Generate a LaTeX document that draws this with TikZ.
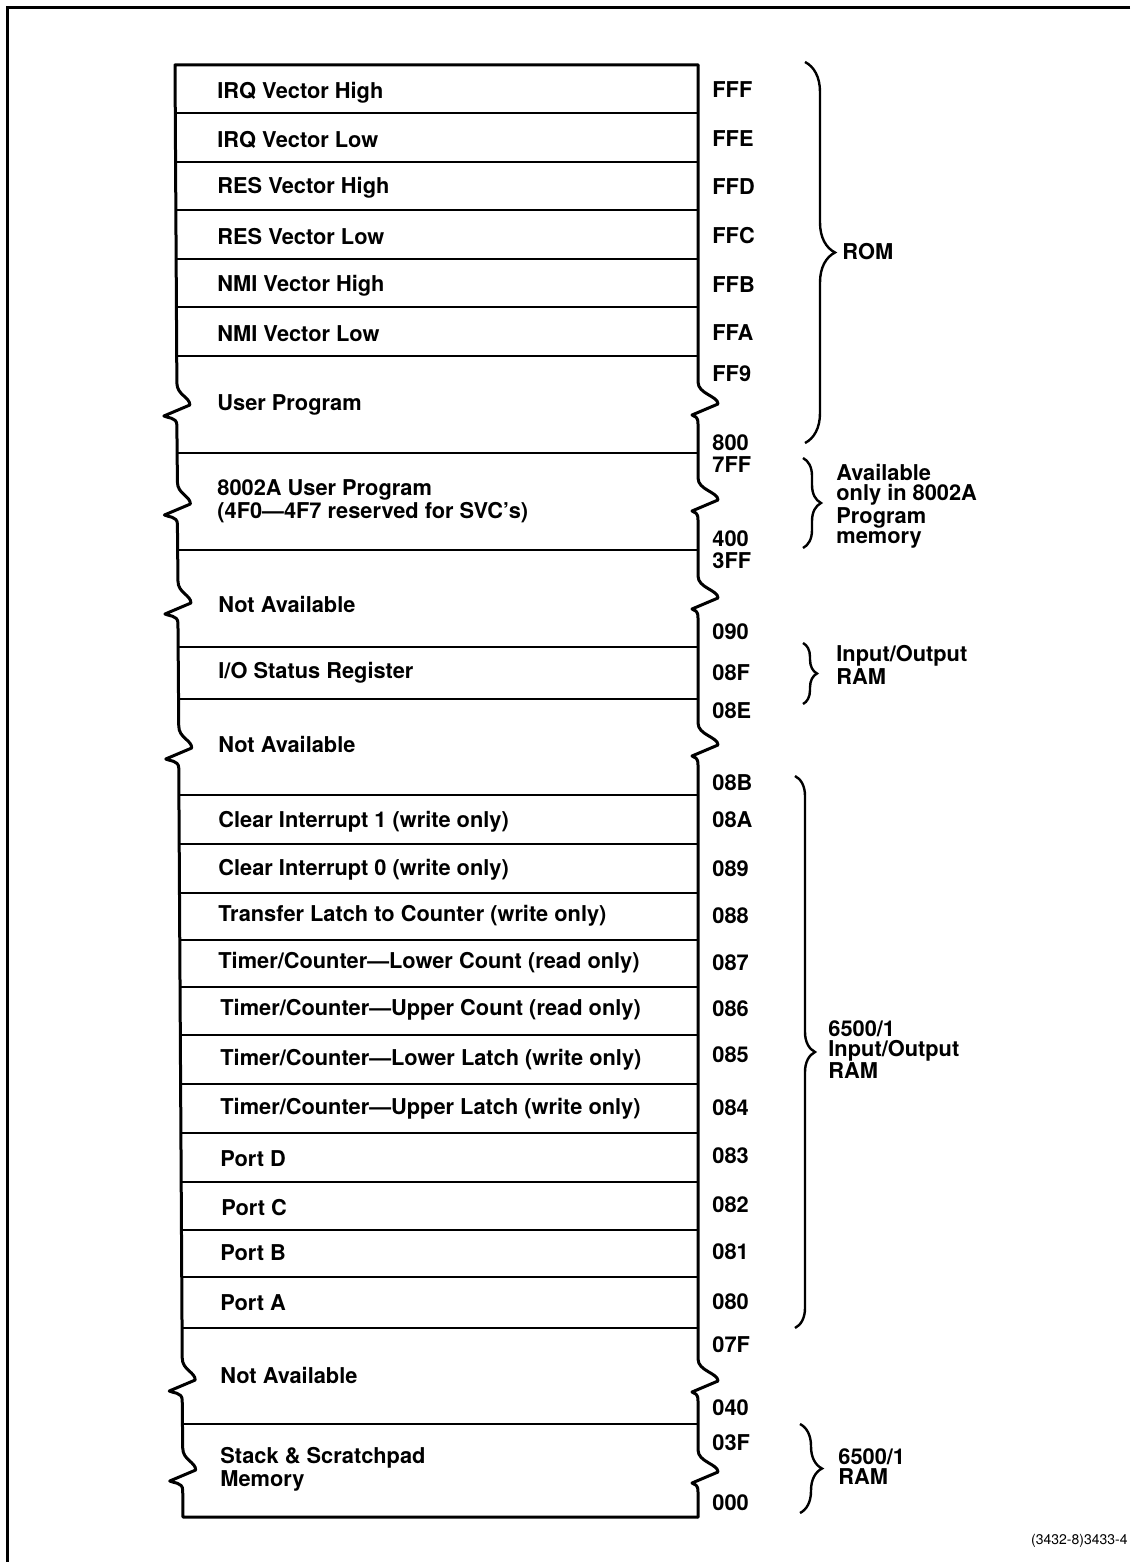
\documentclass[tikz,border=0pt]{standalone}
\usepackage{fontspec}
\setmainfont{TeX Gyre Heros}
\usetikzlibrary{decorations.pathreplacing}
\newcommand\LX[1]{#1*0.0055+174.6425}
\newcommand\zig[4]{-- ({#1},{#2-22}) .. controls ({#1},{#2-10}) and ({#1+#3},{#2-8}) .. ({#1+#3},{#2}) -- ({#1-#4},{#2+11}) .. controls ({#1-#4+3},{#2+13}) and ({#1},{#2+12}) .. ({#1},{#2+20})}
\begin{document}
\begin{tikzpicture}[x=0.5pt,y=-0.5pt,
  box/.style={line width=1.5pt, line cap=round, line join=round},
  div/.style={line width=1.2pt},
  cell/.style={anchor=west, inner sep=0pt, align=left, font=\fontsize{10.9}{9.5}\selectfont\bfseries},
  addr/.style={anchor=west, inner sep=0pt, font=\fontsize{10.9}{10}\selectfont\bfseries},
  note/.style={anchor=north west, inner sep=0pt, align=left, font=\fontsize{10.9}{10}\selectfont\bfseries},
  brc/.style={decorate, line width=1.2pt},
  frame/.style={line width=1.5pt}]
\useasboundingbox (0,0) rectangle (1130,1562);
% outer frame (top and left)
\draw[frame] (1130,8) -- (7,8) -- (7,1562);
% main outline: top, left edge, bottom
\draw[box] (698,65) -- (175,65)
  \zig{\LX{405}}{405}{13}{13}
  \zig{\LX{504}}{504}{13}{13}
  \zig{\LX{603}}{603}{13}{13}
  \zig{\LX{748}}{748}{13}{13}
  \zig{\LX{1380}}{1380}{13}{13}
  \zig{\LX{1470}}{1470}{13}{13}
  -- ({\LX{1517}},1517) -- (698,1517);
% right edge
\draw[box] (698,65)
  \zig{698}{404}{20}{6}
  \zig{698}{500}{20}{6}
  \zig{698}{598}{20}{6}
  \zig{698}{745}{20}{6}
  \zig{698}{1381}{20}{6}
  \zig{698}{1472}{20}{6}
  -- (698,1517);
% dividers
\foreach \y in {113,162,210,259,307,356,453,550,647,699,795,844,893,940,987,1035,1084,1133,1182,1230,1277,1328,1424}
  \draw[div] ({\LX{\y}},\y) -- (698,\y);
% cell texts
\node[cell] (c1) at (217,93) {IRQ Vector High};
\node[cell] (c2) at (217,140) {IRQ Vector Low};
\node[cell] (c3) at (217,188) {RES Vector High};
\node[cell] (c4) at (217,237) {RES Vector Low};
\node[cell] (c5) at (217,286) {NMI Vector High};
\node[cell] (c6) at (217,334) {NMI Vector Low};
\node[cell] (c7) at (217,405) {User Program};
\node[cell] (c8) at (217,501) {8002A User Program\\(4F0—4F7 reserved for SVC’s)};
\node[cell] (c9) at (218,604) {Not Available};
\node[cell] (c10) at (218,673) {I/O Status Register};
\node[cell] (c11) at (218,744) {Not Available};
\node[cell] (c12) at (218,822) {Clear Interrupt 1 (write only)};
\node[cell] (c13) at (218,870) {Clear Interrupt 0 (write only)};
\node[cell] (c14) at (218,916) {Transfer Latch to Counter (write only)};
\node[cell] (c15) at (218,963) {Timer/Counter—Lower Count (read only)};
\node[cell] (c16) at (220,1010) {Timer/Counter—Upper Count (read only)};
\node[cell] (c17) at (220,1060) {Timer/Counter—Lower Latch (write only)};
\node[cell] (c18) at (220,1109) {Timer/Counter—Upper Latch (write only)};
\node[cell] (c19) at (220,1159) {Port D};
\node[cell] (c20) at (221,1208) {Port C};
\node[cell] (c21) at (220,1253) {Port B};
\node[cell] (c22) at (220,1303) {Port A};
\node[cell] (c23) at (220,1375) {Not Available};
\node[cell] (c24) at (220,1469) {Stack \& Scratchpad\\Memory};
% addresses
\node[addr] (a1) at (712,90) {FFF};
\node[addr] (a2) at (712,139) {FFE};
\node[addr] (a3) at (712,187) {FFD};
\node[addr] (a4) at (712,236) {FFC};
\node[addr] (a5) at (712,285) {FFB};
\node[addr] (a6) at (712,333) {FFA};
\node[addr] (a7) at (712,374) {FF9};
\node[addr] (a8) at (712,443) {800};
\node[addr] (a9) at (712,465) {7FF};
\node[addr] (a10) at (712,539) {400};
\node[addr] (a11) at (712,561) {3FF};
\node[addr] (a12) at (712,632) {090};
\node[addr] (a13) at (712,673) {08F};
\node[addr] (a14) at (712,711) {08E};
\node[addr] (a15) at (712,783) {08B};
\node[addr] (a16) at (712,820) {08A};
\node[addr] (a17) at (712,869) {089};
\node[addr] (a18) at (712,916) {088};
\node[addr] (a19) at (712,963) {087};
\node[addr] (a20) at (712,1009) {086};
\node[addr] (a21) at (712,1055) {085};
\node[addr] (a22) at (712,1108) {084};
\node[addr] (a23) at (712,1156) {083};
\node[addr] (a24) at (712,1205) {082};
\node[addr] (a25) at (712,1252) {081};
\node[addr] (a26) at (712,1302) {080};
\node[addr] (a27) at (712,1345) {07F};
\node[addr] (a28) at (712,1408) {040};
\node[addr] (a29) at (712,1443) {03F};
\node[addr] (a30) at (712,1503) {000};
% braces
\coordinate (b1t) at (805,62);   \coordinate (b1b) at (805,443);
\coordinate (b2t) at (803,458);  \coordinate (b2b) at (803,548);
\coordinate (b3t) at (803,643);  \coordinate (b3b) at (803,704);
\coordinate (b4t) at (795,776);  \coordinate (b4b) at (795,1328);
\coordinate (b5t) at (800,1424); \coordinate (b5b) at (800,1513);
\draw[brc, decoration={brace, amplitude=15pt}] (b1t) -- (b1b);
\draw[brc, decoration={brace, amplitude=9pt}] (b2t) -- (b2b);
\draw[brc, decoration={brace, amplitude=7pt}] (b3t) -- (b3b);
\draw[brc, decoration={brace, amplitude=10pt}] (b4t) -- (b4b);
\draw[brc, decoration={brace, amplitude=11pt}] (b5t) -- (b5b);
\node[addr] (n1) at (842,252) {ROM};
\node[note] (n2) at (836,464) {Available\\only in 8002A\\Program\\memory};
\node[note] (n3) at (836,645) {Input/Output\\RAM};
\node[note] (n4) at (828,1020) {6500/1\\Input/Output\\RAM};
\node[note] (n5) at (838,1448) {6500/1\\RAM};
\node[anchor=east, inner sep=0pt, font=\fontsize{7}{8}\selectfont] (ref) at (1128,1541) {(3432-8)3433-4};
\end{tikzpicture}
\end{document}
